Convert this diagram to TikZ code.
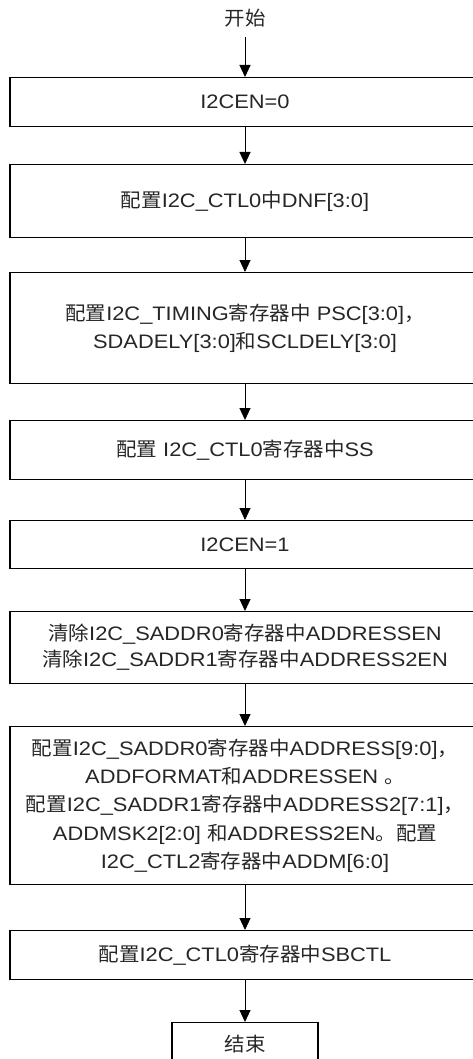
\documentclass[tikz,border=0pt]{standalone}
\usepackage{fontspec}
\setmainfont{Liberation Sans}[FakeStretch=1.12]
\newfontfamily\cjk{Noto Sans CJK SC}[FakeStretch=1.05]
\newcommand{\zh}[1]{{\cjk #1}}
\usetikzlibrary{arrows.meta}
\tikzset{
  box/.style={draw=black, line width=1.1pt, rectangle, anchor=north, minimum width=470pt,
    inner sep=0pt, align=center, text=black!85, font=\fontsize{19.5}{28.3}\selectfont},
  endbox/.style={draw=black, line width=1.1pt, rectangle, anchor=north, minimum width=146pt,
    minimum height=44pt, inner sep=0pt, align=center, text=black!85, font=\fontsize{19.5}{28}\selectfont},
  lbl/.style={inner sep=0pt, text=black!85, font=\fontsize{19.5}{28}\selectfont},
  arr/.style={line width=1pt, -{Triangle[width=11pt,length=12pt]}}
}
\begin{document}
\begin{tikzpicture}[x=1pt, y=-1pt]
\useasboundingbox (0,0) rectangle (473,1059);
\clip (0,0) rectangle (473,1059);
\node[lbl] (start) at (245,18) {\zh{开始}};
\coordinate (s0) at (245,37);
\node[box, minimum height=49pt] (b1) at (245,77) {I2CEN=0};
\node[box, minimum height=73pt] (b2) at (245,164) {\zh{配置}I2C\_CTL0\zh{中}DNF[3:0]};
\node[box, minimum height=111pt] (b3) at (245,272) {\zh{配置}I2C\_TIMING\zh{寄存器中} PSC[3:0]\zh{，}\\ SDADELY[3:0]\zh{和}SCLDELY[3:0]};
\node[box, minimum height=59pt] (b4) at (245,420) {\zh{配置} I2C\_CTL0\zh{寄存器中}SS};
\node[box, minimum height=48pt] (b5) at (245,520) {I2CEN=1};
\node[box, minimum height=72pt, font=\fontsize{19.5}{26}\selectfont] (b6) at (245,611) {\zh{清除}I2C\_SADDR0\zh{寄存器中}ADDRESSEN\\ \zh{清除}I2C\_SADDR1\zh{寄存器中}ADDRESS2EN};
\node[box, minimum height=158pt] (b7) at (245,726) {\zh{配置}I2C\_SADDR0\zh{寄存器中}ADDRESS[9:0]\zh{，}\\ ADDFORMAT\zh{和}ADDRESSEN \zh{。}\\ \zh{配置}I2C\_SADDR1\zh{寄存器中}ADDRESS2[7:1]\zh{，}\\ ADDMSK2[2:0] \zh{和}ADDRESS2EN\zh{。配置}\\ I2C\_CTL2\zh{寄存器中}ADDM[6:0]};
\node[box, minimum height=49pt] (b8) at (245,930) {\zh{配置}I2C\_CTL0\zh{寄存器中}SBCTL};
\node[endbox] (end) at (245,1022) {\zh{结束}};
\draw[arr] (s0) -- (b1.north);
\draw[arr] (b1.south) -- (b2.north);
\draw[arr] (b2.south) -- (b3.north);
\draw[arr] (b3.south) -- (b4.north);
\draw[arr] (b4.south) -- (b5.north);
\draw[arr] (b5.south) -- (b6.north);
\draw[arr] (b6.south) -- (b7.north);
\draw[arr] (b7.south) -- (b8.north);
\draw[arr] (b8.south) -- (end.north);
\end{tikzpicture}
\end{document}
